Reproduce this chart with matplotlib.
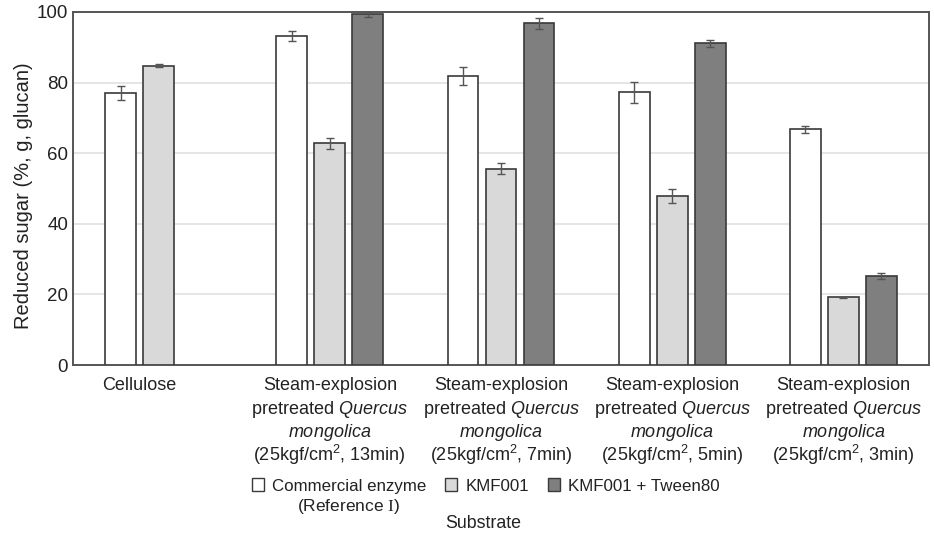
import numpy as np
import matplotlib.pyplot as plt
from matplotlib.patches import Patch

plt.rcParams['font.family'] = ['Liberation Sans', 'DejaVu Sans']
plt.rcParams['mathtext.fontset'] = 'custom'
plt.rcParams['mathtext.rm'] = 'Liberation Sans'
plt.rcParams['mathtext.it'] = 'Liberation Sans:italic'
plt.rcParams['mathtext.sf'] = 'Liberation Serif'

# data
substrates = [
    ["Cellulose"],
    ["Steam-explosion", "pretreated $\\it{Quercus}$", "$\\it{mongolica}$",
     "(25kgf/cm$^2$, 13min)"],
    ["Steam-explosion", "pretreated $\\it{Quercus}$", "$\\it{mongolica}$",
     "(25kgf/cm$^2$, 7min)"],
    ["Steam-explosion", "pretreated $\\it{Quercus}$", "$\\it{mongolica}$",
     "(25kgf/cm$^2$, 5min)"],
    ["Steam-explosion", "pretreated $\\it{Quercus}$", "$\\it{mongolica}$",
     "(25kgf/cm$^2$, 3min)"],
]
series = ["Commercial enzyme", "KMF001", "KMF001 + Tween80"]
commercial = [77.0, 93.2, 81.8, 77.2, 66.8]
commercial_err = [2.0, 1.5, 2.5, 3.0, 1.0]
kmf = [84.8, 62.8, 55.6, 47.8, 19.2]
kmf_err = [0.5, 1.5, 1.5, 2.0, 0.2]
tween = [np.nan, 99.3, 96.8, 91.2, 25.2]
tween_err = [np.nan, 0.6, 1.5, 1.0, 0.8]

colors = ["white", "#d9d9d9", "#7f7f7f"]
txt = "#222222"

fig = plt.figure(figsize=(9.34, 5.37), dpi=100)
ax = fig.add_axes([73 / 934, 1 - 365 / 537, (929 - 73) / 934, (365 - 12) / 537])

x = np.arange(len(substrates))
w = 0.18
off = 0.222
vals = [commercial, kmf, tween]
errs = [commercial_err, kmf_err, tween_err]
for i, (v, e) in enumerate(zip(vals, errs)):
    ax.bar(x + (i - 1) * off, v, w, color=colors[i], edgecolor="#3a3a3a",
           linewidth=1.2, zorder=3)
    ax.errorbar(x + (i - 1) * off, v, yerr=e, fmt="none", ecolor="#555555",
                elinewidth=1.0, capsize=3, capthick=1.0, zorder=4)

# category labels: centre of the bars that exist in each group, one line at a time
line_offsets = [18, 35.3, 52, 69.3]  # points below the axis (baselines)
for j, lines in enumerate(substrates):
    pos = [x[j] + (i - 1) * off for i in range(3) if not np.isnan(vals[i][j])]
    xc = np.mean(pos)
    for k, line in enumerate(lines):
        ax.annotate(line, xy=(xc, 0), xycoords=("data", "axes fraction"),
                    xytext=(0, -line_offsets[k]), textcoords="offset points",
                    ha="center", va="baseline", fontsize=13, color=txt,
                    annotation_clip=False)

ax.set_xticks([])
ax.set_xlim(-0.5, 4.5)
ax.set_ylim(0, 100)
ax.set_yticks([0, 20, 40, 60, 80, 100])
ax.tick_params(axis="y", length=0, labelsize=13.5, pad=3.5, labelcolor=txt)
ax.yaxis.grid(True, color="#e0e0e0", linewidth=1.2, zorder=0)
for s in ax.spines.values():
    s.set_color("#555555")
    s.set_linewidth(1.4)
ax.set_ylabel("Reduced sugar (%, g, glucan)", fontsize=14.5, color=txt)
ax.yaxis.set_label_coords(-0.047, 0.479)

handles = [Patch(facecolor=c, edgecolor="#3a3a3a", linewidth=1.0) for c in colors]
fig.legend(handles, series, loc="center", bbox_to_anchor=(0.52, 0.095),
           ncol=3, frameon=False, fontsize=12.2, handlelength=0.7,
           handleheight=0.75, handletextpad=0.5, columnspacing=1.1,
           labelcolor=txt)
fig.text(0.373, 0.056, "(Reference $\\mathsf{I}$)", ha="center", va="center",
         fontsize=12.5, color=txt)
fig.text(0.517, 0.026, "Substrate", ha="center", va="center", fontsize=12.8,
         color=txt)

fig.savefig("out.png", dpi=100)
